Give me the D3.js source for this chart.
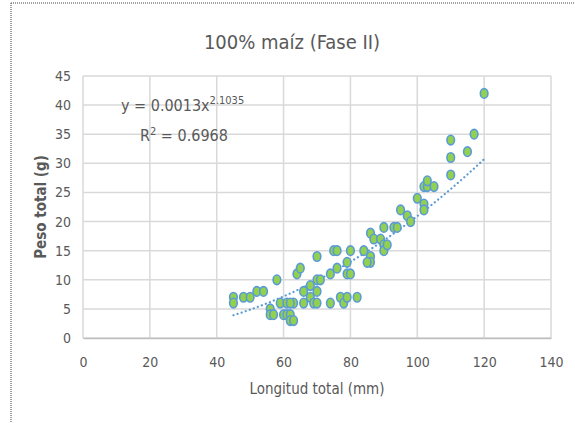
<!DOCTYPE html>
<html>
<head>
<meta charset="utf-8">
<script src="https://cdn.jsdelivr.net/npm/d3@7"></script>
<style>
  body { margin: 0; background: #fff; }
  svg text { font-family: "Liberation Sans Narrow", "DejaVu Sans Condensed", "Liberation Sans", sans-serif; fill: #595959; }
</style>
</head>
<body>
<div id="chart"></div>
<script>
// longitud total (mm) / peso total (g)
const longitud = [45, 45, 48, 50, 52, 54, 58, 56, 56, 57, 59, 60, 61, 61, 62, 62, 63, 63, 62,
  64, 65, 66, 66, 68, 68, 69, 70, 71, 70, 70, 70, 74, 74, 76, 75, 76, 77, 78, 79, 79, 79, 80,
  80, 82, 84, 86, 86, 85, 86, 87, 89, 90, 90, 91, 90, 93, 94, 95, 97, 98, 100, 102, 102, 102,
  103, 103, 105, 110, 110, 110, 115, 117, 120];
const peso = [7, 6, 7, 7, 8, 8, 10, 5, 4, 4, 6, 4, 6, 4, 4, 3, 3, 6, 6,
  11, 12, 8, 6, 9, 7, 6, 10, 10, 8, 6, 14, 6, 11, 12, 15, 15, 7, 6, 7, 13, 11, 11,
  15, 7, 15, 14, 13, 13, 18, 17, 17, 16, 15, 16, 19, 19, 19, 22, 21, 20, 24, 23, 22, 26,
  26, 27, 26, 34, 31, 28, 32, 35, 42];

const xTicks = [0, 20, 40, 60, 80, 100, 120, 140];
const yTicks = [0, 5, 10, 15, 20, 25, 30, 35, 40, 45];
const coefA = 0.0013, coefB = 2.1035; // linea de tendencia potencial

const width = 575;
const height = 423;
const svg = d3.select('#chart').append('svg').attr('width', width).attr('height', height);

const x = d3.scaleLinear().domain([0, 140]).range([83, 551]);
const y = d3.scaleLinear().domain([0, 45]).range([338, 76]);

// borde punteado
svg.append('line').attr('x1', 11).attr('x2', 11).attr('y1', 3).attr('y2', height)
  .attr('stroke', '#444').attr('stroke-width', 1).attr('stroke-dasharray', '1,1');
svg.append('line').attr('x1', 11).attr('x2', width).attr('y1', 3).attr('y2', 3)
  .attr('stroke', '#444').attr('stroke-width', 1).attr('stroke-dasharray', '1,1');

// rejilla
svg.append('g').selectAll('line').data(yTicks).enter().append('line')
  .attr('x1', x(0)).attr('x2', x(140)).attr('y1', d => y(d)).attr('y2', d => y(d))
  .attr('stroke', '#D9D9D9').attr('stroke-width', 1.5);
svg.append('g').selectAll('line').data(xTicks).enter().append('line')
  .attr('x1', d => x(d)).attr('x2', d => x(d)).attr('y1', y(0)).attr('y2', y(45))
  .attr('stroke', '#D9D9D9').attr('stroke-width', 1.5);

// ejes
const xAxis = svg.append('g').attr('transform', `translate(0,${y(0)})`)
  .call(d3.axisBottom(x).tickValues(xTicks).tickSize(0).tickPadding(19));
xAxis.select('.domain').attr('stroke', '#BFBFBF').attr('stroke-width', 1.5);
xAxis.selectAll('text').style('font-size', '14px');

const yAxis = svg.append('g').attr('transform', `translate(${x(0)},0)`)
  .call(d3.axisLeft(y).tickValues(yTicks).tickSize(0).tickPadding(12));
yAxis.select('.domain').remove();
yAxis.selectAll('text').style('font-size', '14px');

// tendencia
const trendX = d3.range(45, 120.01, 0.5);
svg.append('path')
  .datum(trendX)
  .attr('d', d3.line().x(d => x(d)).y(d => y(coefA * Math.pow(d, coefB))))
  .attr('fill', 'none').attr('stroke', '#5B9BD5').attr('stroke-width', 2.2)
  .attr('stroke-linecap', 'round').attr('stroke-dasharray', '0.1,4.2');

// puntos
svg.append('g').selectAll('ellipse').data(longitud).enter().append('ellipse')
  .attr('cx', (d, i) => x(d)).attr('cy', (d, i) => y(peso[i]))
  .attr('rx', 3.8).attr('ry', 4.8)
  .attr('fill', '#92D050').attr('stroke', '#5B9BD5').attr('stroke-width', 1.6);

// textos
svg.append('text').attr('x', 292).attr('y', 49).attr('text-anchor', 'middle')
  .style('font-size', '20px').text('100% maíz (Fase II)');
svg.append('text').attr('x', 317).attr('y', 394).attr('text-anchor', 'middle')
  .style('font-size', '15px').text('Longitud total (mm)');
svg.append('text').attr('transform', 'translate(46,207) rotate(-90)').attr('text-anchor', 'middle')
  .style('font-size', '15px').style('font-weight', 'bold').text('Peso total (g)');

const eq = svg.append('text').attr('x', 121).attr('y', 111).style('font-size', '16px');
eq.append('tspan').text('y = 0.0013x');
eq.append('tspan').attr('dy', -7).style('font-size', '11px').text('2.1035');
const r2 = svg.append('text').attr('x', 140).attr('y', 141).style('font-size', '16px');
r2.append('tspan').text('R');
r2.append('tspan').attr('dy', -6).style('font-size', '11px').text('2');
r2.append('tspan').attr('dy', 6).text(' = 0.6968');
</script>
</body>
</html>
